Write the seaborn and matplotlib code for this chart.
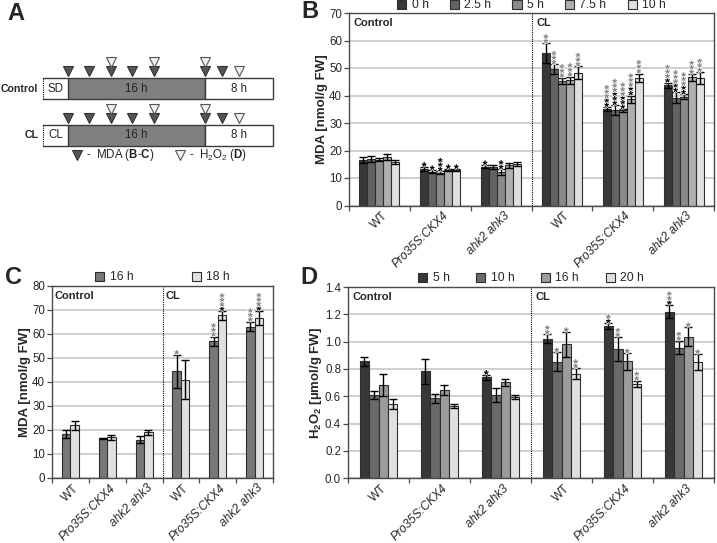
import numpy as np
import pandas as pd
import matplotlib
matplotlib.use("Agg")
import matplotlib.pyplot as plt
import seaborn as sns
from matplotlib.patches import Patch, Rectangle
import matplotlib.patheffects as pe
from matplotlib.transforms import ScaledTranslation, blended_transform_factory

# ---------------- data ----------------
genotypes = ["WT", "Pro35S:CKX4", "ahk2 ahk3"]
conditions = ["Control", "CL"]
group_keys = [f"{c}|{g}" for c in conditions for g in genotypes]
group_labels = genotypes * 2
italic_labels = ["Pro35S:CKX4", "ahk2 ahk3"]

# Panel B: MDA at time points (rows = groups, cols = hours)
b_hours = ["0 h", "2.5 h", "5 h", "7.5 h", "10 h"]
b_mean = [[16.5, 16.9, 16.7, 17.6, 15.8],
          [13.3, 12.3, 11.9, 13.0, 13.0],
          [14.1, 14.1, 12.2, 14.6, 15.0],
          [55.5, 49.5, 45.3, 45.6, 48.3],
          [35.0, 34.7, 34.6, 38.7, 46.5],
          [43.8, 39.2, 39.6, 46.6, 46.3]]
b_err = [[1.0, 1.2, 0.5, 1.2, 0.8],
         [0.8, 0.6, 0.5, 0.3, 0.3],
         [0.6, 0.8, 1.0, 1.0, 0.8],
         [3.5, 1.8, 1.2, 1.3, 2.3],
         [0.8, 1.8, 0.5, 1.3, 1.5],
         [0.9, 2.0, 0.8, 1.2, 2.2]]
b_black = [[0, 0, 0, 0, 0], [1, 1, 3, 1, 1], [1, 0, 2, 0, 0],
           [0, 0, 0, 0, 0], [2, 3, 3, 2, 0], [1, 2, 2, 0, 0]]
b_gray = [[0, 0, 0, 0, 0], [0, 0, 0, 0, 0], [0, 0, 0, 0, 0],
          [2, 3, 3, 3, 3], [3, 3, 3, 3, 3], [3, 3, 3, 3, 3]]

# Panel C: MDA at 16 h / 18 h
c_hours = ["16 h", "18 h"]
c_mean = [[18.4, 21.9], [16.5, 16.9], [16.0, 19.1],
          [44.4, 41.0], [56.9, 67.8], [63.1, 66.7]]
c_err = [[1.8, 1.8], [0.3, 1.0], [1.5, 1.0],
         [7.0, 8.0], [2.0, 1.8], [2.0, 3.0]]
c_black = [[0, 0], [0, 0], [0, 0], [0, 0], [0, 1], [0, 1]]
c_gray = [[0, 0], [0, 0], [0, 0], [1, 0], [3, 3], [3, 3]]

# Panel D: H2O2
d_hours = ["5 h", "10 h", "16 h", "20 h"]
d_mean = [[0.855, 0.612, 0.685, 0.545],
          [0.782, 0.585, 0.646, 0.528],
          [0.738, 0.610, 0.704, 0.592],
          [1.023, 0.853, 0.981, 0.765],
          [1.115, 0.945, 0.855, 0.690],
          [1.220, 0.957, 1.037, 0.850]]
d_err = [[0.03, 0.03, 0.08, 0.035],
         [0.09, 0.035, 0.035, 0.015],
         [0.02, 0.05, 0.025, 0.015],
         [0.03, 0.07, 0.09, 0.04],
         [0.02, 0.09, 0.06, 0.025],
         [0.05, 0.05, 0.07, 0.06]]
d_black = [[0, 0, 0, 0], [0, 0, 0, 0], [1, 0, 0, 0],
           [0, 0, 0, 0], [1, 0, 0, 0], [1, 0, 0, 0]]
d_gray = [[0, 0, 0, 0], [0, 0, 0, 0], [0, 0, 0, 0],
          [2, 1, 1, 2], [1, 2, 1, 2], [2, 2, 1, 1]]

# Panel A schematic: sampling times (h)
mda_times = [0, 2.5, 5, 7.5, 10, 16, 18]
h2o2_times = [5, 10, 16, 20]

# ---------------- style ----------------
sns.set_style("white")
plt.rcParams["font.family"] = ["Liberation Sans", "DejaVu Sans"]
plt.rcParams["mathtext.fontset"] = "custom"
plt.rcParams["mathtext.rm"] = "Liberation Sans"
plt.rcParams["mathtext.bf"] = "Liberation Sans:bold"
plt.rcParams["mathtext.it"] = "Liberation Sans:italic"

W, H = 717, 543
fig = plt.figure(figsize=(W / 100, H / 100), dpi=100)


def rect(l, t, r, b):
    return [l / W, 1 - b / H, (r - l) / W, (b - t) / H]


SPINE = "#4a4a4a"
EDGE = "#2e2e2e"
GRAY_STAR = "#828282"
STAR_FS = 9.2
STAR_SP = 3.1   # points between stacked stars
STAR_LS = 0.16


def draw_stars(ax, x, top, nb, ng):
    base = -3.0
    for color, n, start in (("black", nb, 0), (GRAY_STAR, ng, nb)):
        if n == 0:
            continue
        txt = "\n".join(["*"] * n)
        t = ax.annotate(txt, (x, top), xytext=(0, base + STAR_SP * start),
                        textcoords="offset points", ha="center", va="baseline",
                        fontsize=STAR_FS, fontweight="bold", color=color,
                        linespacing=STAR_LS, zorder=6, annotation_clip=False)
        t.set_path_effects([pe.withStroke(linewidth=1.0, foreground="white")])


def bar_panel(ax, means, errs, hours, colors, blacks, grays, ylim, ystep, width,
              ylabel, yfmt, leg_spacing, leg_y):
    rows = []
    for gi, g in enumerate(group_keys):
        for hi, h in enumerate(hours):
            rows.append({"group": g, "hour": h, "value": means[gi][hi]})
    df = pd.DataFrame(rows)
    sns.barplot(data=df, x="group", y="value", hue="hour", order=group_keys,
                hue_order=hours, palette=colors, width=width, errorbar=None,
                edgecolor=EDGE, linewidth=0.8, saturation=1, legend=False, ax=ax)
    conts = list(ax.containers)
    for hi, cont in enumerate(conts):
        xs = [p.get_x() + p.get_width() / 2 for p in cont.patches]
        tops = [p.get_height() for p in cont.patches]
        es = [errs[gi][hi] for gi in range(len(group_keys))]
        ax.errorbar(xs, tops, yerr=es, fmt="none", ecolor="black", elinewidth=1,
                    capsize=3, capthick=1, zorder=4)
        for gi in range(len(group_keys)):
            draw_stars(ax, xs[gi], tops[gi] + es[gi], blacks[gi][hi], grays[gi][hi])

    ax.set_xlim(-0.5, len(group_keys) - 0.5)
    ax.set_ylim(*ylim)
    ax.set_yticks(np.arange(ylim[0], ylim[1] + ystep / 2, ystep))
    ax.yaxis.set_major_formatter(matplotlib.ticker.FormatStrFormatter(yfmt))
    ax.set_xticks(np.arange(-0.5, len(group_keys), 1.0))
    ax.set_xticklabels([])
    ax.tick_params(axis="both", which="major", direction="out", length=3.5, width=0.9,
                   color=SPINE, labelsize=8.3, pad=1.5, bottom=True, left=True)
    ax.set_axisbelow(True)
    ax.yaxis.grid(True, color="#c2c2c2", linewidth=1.1)
    ax.xaxis.grid(False)
    for s in ax.spines.values():
        s.set_visible(True)
        s.set_color(SPINE)
        s.set_linewidth(1.0)
        s.set_zorder(2.5)
    ax.axvline(2.5, color="black", linestyle=(0, (1, 1)), linewidth=0.8, zorder=1)
    ax.set_xlabel("")
    ax.set_ylabel(ylabel, fontsize=9.5, fontweight="bold", labelpad=0.5)

    trans = blended_transform_factory(ax.transData, ax.transAxes)
    off = ScaledTranslation(4.5 / 72, -6.0 / 72, fig.dpi_scale_trans)
    for i, lab in enumerate(group_labels):
        ax.text(i, 0, lab, transform=trans + off, rotation=45, ha="right", va="center",
                rotation_mode="anchor", fontsize=8.6,
                fontstyle=("italic" if lab in italic_labels else "normal"))

    ax.text(0.012, 0.975, "Control", transform=ax.transAxes, fontsize=8,
            fontweight="bold", va="top", ha="left", zorder=7)
    ax.text(2.5 + 0.08, 0.975, "CL", transform=trans, fontsize=8,
            fontweight="bold", va="top", ha="left", zorder=7)

    handles = [Patch(facecolor=c, edgecolor=EDGE, linewidth=0.8) for c in colors]
    ax.legend(handles, hours, loc="center", bbox_to_anchor=(0.5, leg_y), ncol=len(hours),
              frameon=False, fontsize=8.7, handlelength=0.75, handleheight=0.75,
              handletextpad=0.45, columnspacing=leg_spacing, borderaxespad=0,
              borderpad=0)


# ---------------- panel B ----------------
axB = fig.add_axes(rect(349, 13, 714, 205.5))
bar_panel(axB, b_mean, b_err, b_hours,
          ["#383838", "#636363", "#8a8a8a", "#b0b0b0", "#e0e0e0"],
          b_black, b_gray, (0, 70), 10, 0.66, "MDA [nmol/g FW]", "%d", 1.75, 1.04)

# ---------------- panel C ----------------
axC = fig.add_axes(rect(52, 286, 273, 478))
bar_panel(axC, c_mean, c_err, c_hours, ["#777777", "#e0e0e0"],
          c_black, c_gray, (0, 80), 10, 0.46, "MDA [nmol/g FW]", "%d", 4.8, 1.045)

# ---------------- panel D ----------------
axD = fig.add_axes(rect(348, 287, 714, 478.3))
bar_panel(axD, d_mean, d_err, d_hours, ["#383838", "#6a6a6a", "#9c9c9c", "#e0e0e0"],
          d_black, d_gray, (0, 1.4), 0.2, 0.62,
          r"$\mathbf{H_2O_2}$ [µmol/g FW]", "%.1f", 2.2, 1.045)

# ---------------- panel A (schematic) ----------------
axA = fig.add_axes(rect(0, 0, 300, 200))
px_per_h = 8.56
x0px = 68
axA.set_xlim(-x0px / px_per_h, (300 - x0px) / px_per_h)
axA.set_ylim(200, 0)
axA.axis("off")
start_h = (43 - x0px) / px_per_h
for name, pre, ytop in (("Control", "SD", 78), ("CL", "CL", 125)):
    hgt = 21
    axA.add_patch(Rectangle((0, ytop), 16, hgt, facecolor="#808080", edgecolor="#3a3a3a",
                            linewidth=1.0))
    axA.add_patch(Rectangle((16, ytop), 8, hgt, facecolor="white", edgecolor="#3a3a3a",
                            linewidth=1.0))
    axA.plot([start_h, 0], [ytop, ytop], color="#3a3a3a", lw=1.0)
    axA.plot([start_h, 0], [ytop + hgt, ytop + hgt], color="#3a3a3a", lw=1.0)
    axA.plot([start_h, start_h], [ytop, ytop + hgt], color="black", lw=0.8,
             linestyle=(0, (1, 1)))
    ymid = ytop + hgt / 2
    axA.text(start_h / 2, ymid, pre, ha="center", va="center", fontsize=8.3, color="#222222")
    axA.text(8, ymid, "16 h", ha="center", va="center", fontsize=8.3, color="#222222")
    axA.text(20, ymid, "8 h", ha="center", va="center", fontsize=8.3, color="#222222")
    axA.text(start_h - 0.55, ymid, name, ha="right", va="center", fontsize=7.6,
             fontweight="bold")
    ydark = ytop - 7
    axA.plot(mda_times, [ydark] * len(mda_times), "v", ms=6.5, mfc="#555555",
             mec="#333333", mew=0.8, linestyle="none")
    ylight = [ydark - 9 if t in mda_times else ydark for t in h2o2_times]
    axA.plot(h2o2_times, ylight, "v", ms=6.5, mfc="#eeeeee", mec="#555555", mew=0.8,
             linestyle="none")

yl = 155
axA.plot([(77 - x0px) / px_per_h], [yl], "v", ms=6.5, mfc="#555555", mec="#333333", mew=0.8)
axA.text((86 - x0px) / px_per_h, yl, r"-  MDA ($\mathbf{B}$-$\mathbf{C}$)", ha="left",
         va="center", fontsize=8.3, color="#222222")
axA.plot([(180 - x0px) / px_per_h], [yl], "v", ms=6.5, mfc="#eeeeee", mec="#555555", mew=0.8)
axA.text((189 - x0px) / px_per_h, yl, r"-  H$_2$O$_2$ ($\mathbf{D}$)", ha="left",
         va="center", fontsize=8.3, color="#222222")

# ---------------- panel letters ----------------
for letter, px, py in (("A", 16, 13), ("B", 310, 11), ("C", 14, 278), ("D", 309, 278)):
    fig.text(px / W, 1 - py / H, letter, fontsize=17, fontweight="bold", ha="center",
             va="center")

fig.savefig("out.png", dpi=100)
